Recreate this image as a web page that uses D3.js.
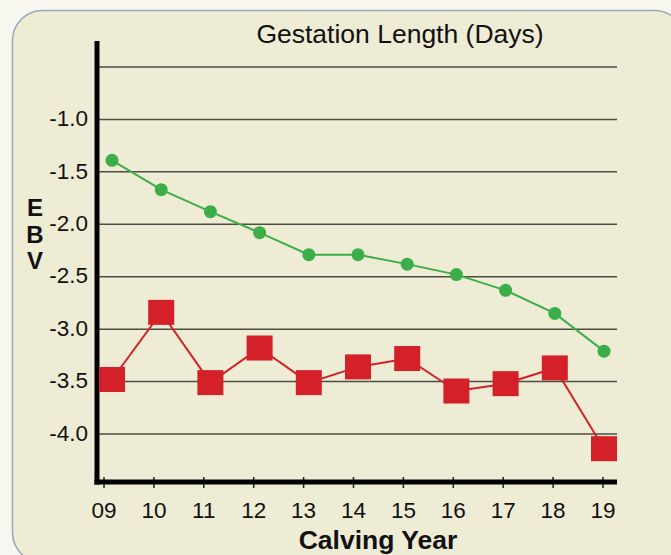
<!DOCTYPE html>
<html>
<head>
<meta charset="utf-8">
<script src="https://cdn.jsdelivr.net/npm/d3@7"></script>
<style>
  html, body { margin: 0; padding: 0; background: #f7f6ef; }
  svg { display: block; font-family: "Liberation Sans", Arial, sans-serif; }
</style>
</head>
<body>
<div id="wrapper"></div>
<script>
// data
const years = ["09", "10", "11", "12", "13", "14", "15", "16", "17", "18", "19"];
const greenValues = [-1.39, -1.67, -1.88, -2.08, -2.29, -2.29, -2.38, -2.48, -2.63, -2.85, -3.21];
const redValues = [-3.48, -2.84, -3.51, -3.18, -3.51, -3.36, -3.28, -3.59, -3.52, -3.37, -4.14];
const gridValues = [-0.5, -1.0, -1.5, -2.0, -2.5, -3.0, -3.5, -4.0];
const tickLabels = ["", "-1.0", "-1.5", "-2.0", "-2.5", "-3.0", "-3.5", "-4.0"];

const width = 671, height = 555;

const svg = d3.select("#wrapper").append("svg")
  .attr("width", width)
  .attr("height", height);

// panel
svg.append("rect")
  .attr("x", 12.5).attr("y", 10.5)
  .attr("width", 672).attr("height", 552)
  .attr("rx", 30).attr("ry", 30)
  .attr("fill", "#eeecd5")
  .attr("stroke", "#9aa7b6")
  .attr("stroke-width", 1.5);

// scales
const yScale = d3.scaleLinear().domain([-0.5, -4.0]).range([67, 434]);
const xAxisScale = d3.scalePoint().domain(years).range([104, 603]);
const xPointScale = d3.scalePoint().domain(years).range([112, 604]);

const plotLeft = 97, plotRight = 617, axisY = 482;

// gridlines
svg.append("g").selectAll("line")
  .data(gridValues)
  .join("line")
  .attr("x1", plotLeft).attr("x2", plotRight)
  .attr("y1", d => yScale(d)).attr("y2", d => yScale(d))
  .attr("stroke", "#4d4d45")
  .attr("stroke-width", 1.5);

// y tick labels
svg.append("g").selectAll("text")
  .data(gridValues)
  .join("text")
  .attr("x", 88)
  .attr("y", d => yScale(d))
  .attr("dy", "0.3em")
  .attr("text-anchor", "end")
  .attr("font-size", 22.5)
  .attr("fill", "#111")
  .text((d, i) => tickLabels[i]);

// x axis ticks
const xAxis = svg.append("g");
xAxis.selectAll("line")
  .data(years)
  .join("line")
  .attr("x1", d => xAxisScale(d)).attr("x2", d => xAxisScale(d))
  .attr("y1", axisY - 5).attr("y2", axisY + 6)
  .attr("stroke", "#222")
  .attr("stroke-width", 1.5);
xAxis.selectAll("text")
  .data(years)
  .join("text")
  .attr("x", d => xAxisScale(d))
  .attr("y", 518)
  .attr("text-anchor", "middle")
  .attr("font-size", 22.5)
  .attr("fill", "#111")
  .text(d => d);

// axis lines
svg.append("line")
  .attr("x1", plotLeft).attr("x2", plotLeft)
  .attr("y1", 41).attr("y2", axisY + 2.5)
  .attr("stroke", "#000").attr("stroke-width", 5);
svg.append("line")
  .attr("x1", plotLeft - 2.5).attr("x2", plotRight)
  .attr("y1", axisY).attr("y2", axisY)
  .attr("stroke", "#000").attr("stroke-width", 5);

// red series
const line = d3.line()
  .x((d, i) => xPointScale(years[i]))
  .y(d => yScale(d));

svg.append("path")
  .attr("d", line(redValues))
  .attr("fill", "none")
  .attr("stroke", "#d42129")
  .attr("stroke-width", 2);
svg.append("g").selectAll("rect")
  .data(redValues)
  .join("rect")
  .attr("x", (d, i) => xPointScale(years[i]) - 13)
  .attr("y", d => yScale(d) - 12.5)
  .attr("width", 26).attr("height", 25)
  .attr("fill", "#d42129");

// green series
svg.append("path")
  .attr("d", line(greenValues))
  .attr("fill", "none")
  .attr("stroke", "#3cae49")
  .attr("stroke-width", 2);
svg.append("g").selectAll("circle")
  .data(greenValues)
  .join("circle")
  .attr("cx", (d, i) => xPointScale(years[i]))
  .attr("cy", d => yScale(d))
  .attr("r", 6.5)
  .attr("fill", "#3cae49");

// titles
svg.append("text")
  .attr("x", 400).attr("y", 43)
  .attr("text-anchor", "middle")
  .attr("font-size", 26.5)
  .attr("fill", "#111")
  .text("Gestation Length (Days)");

svg.append("text")
  .attr("x", 378).attr("y", 549)
  .attr("text-anchor", "middle")
  .attr("font-size", 26.5)
  .attr("font-weight", "bold")
  .attr("fill", "#111")
  .text("Calving Year");

svg.append("g").selectAll("text")
  .data(["E", "B", "V"])
  .join("text")
  .attr("x", 35)
  .attr("y", (d, i) => 216 + i * 26.5)
  .attr("text-anchor", "middle")
  .attr("font-size", 24)
  .attr("font-weight", "bold")
  .attr("fill", "#111")
  .text(d => d);
</script>
</body>
</html>
